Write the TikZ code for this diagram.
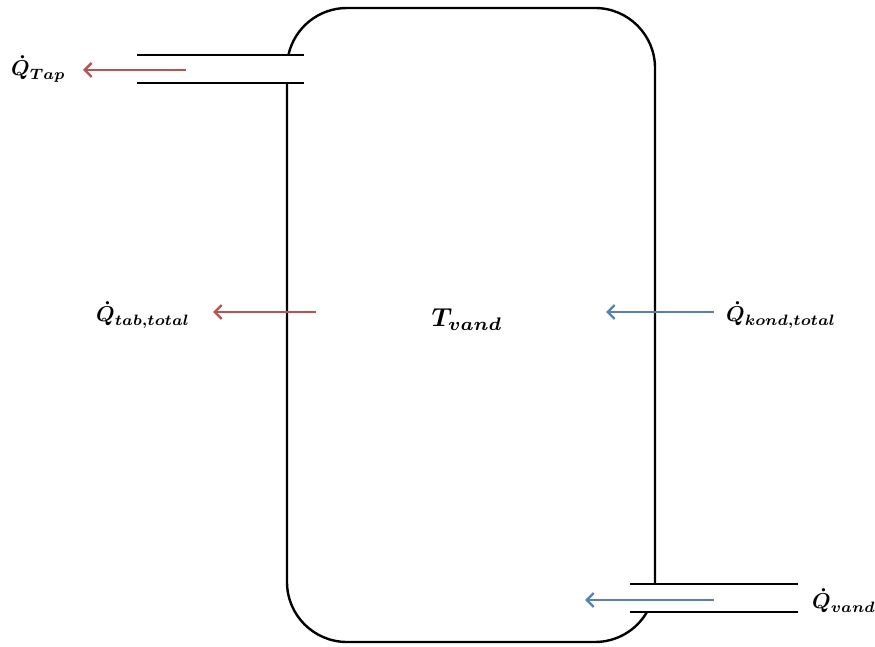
\documentclass[tikz,border=0pt]{standalone}
\usepackage{amsmath,bm}
\usetikzlibrary{arrows.meta}
\definecolor{hotred}{RGB}{192,80,77}
\definecolor{coldblue}{RGB}{79,129,189}
\tikzset{
  wall/.style={line width=2.4pt, black},
  flowarrow/.style={line width=2.3pt, -{Straight Barb[length=7pt,width=14pt,line width=2.3pt]}},
  lbl/.style={inner sep=0pt}
}
\newcommand{\bigmath}[2][2.15]{\scalebox{#1}{$\bm{#2}$}}
\begin{document}
\begin{tikzpicture}[x=1pt,y=1pt]
\useasboundingbox (0,0) rectangle (875,646);
% tank outline
\draw[wall] (288.4,591) arc[start angle=167.5,end angle=90,radius=60] -- (595,638)
  arc[start angle=90,end angle=0,radius=60] -- (655,62);
\draw[wall] (287,563) -- (287,64) arc[start angle=180,end angle=270,radius=60] -- (595,4)
  arc[start angle=270,end angle=330,radius=60];
% pipes
\draw[wall] (137,591) -- (304,591);
\draw[wall] (137,563) -- (304,563);
\draw[wall] (630,62) -- (798,62);
\draw[wall] (630,34) -- (798,34);
% arrow endpoints
\coordinate (tapS) at (186,576);
\coordinate (tapE) at (83,576);
\coordinate (tabS) at (316,334);
\coordinate (tabE) at (213,334);
\coordinate (kondS) at (714,334);
\coordinate (kondE) at (606,334);
\coordinate (vandS) at (714,46);
\coordinate (vandE) at (585,46);
\draw[flowarrow, hotred] (tapS) -- (tapE);
\draw[flowarrow, hotred] (tabS) -- (tabE);
\draw[flowarrow, coldblue] (kondS) -- (kondE);
\draw[flowarrow, coldblue] (vandS) -- (vandE);
% labels
\node[lbl, anchor=west] (qtap) at (11,577) {\bigmath{\dot{Q}_{Tap}}};
\node[lbl, anchor=west] (qtab) at (96,331) {\bigmath{\dot{Q}_{tab,total}}};
\node[lbl, anchor=west] (qkond) at (726,331) {\bigmath{\dot{Q}_{kond,total}}};
\node[lbl, anchor=west] (qvand) at (812,45) {\bigmath{\dot{Q}_{vand}}};
\node[lbl] (tvand) at (467,326) {\bigmath[2.6]{T_{vand}}};
\end{tikzpicture}
\end{document}
